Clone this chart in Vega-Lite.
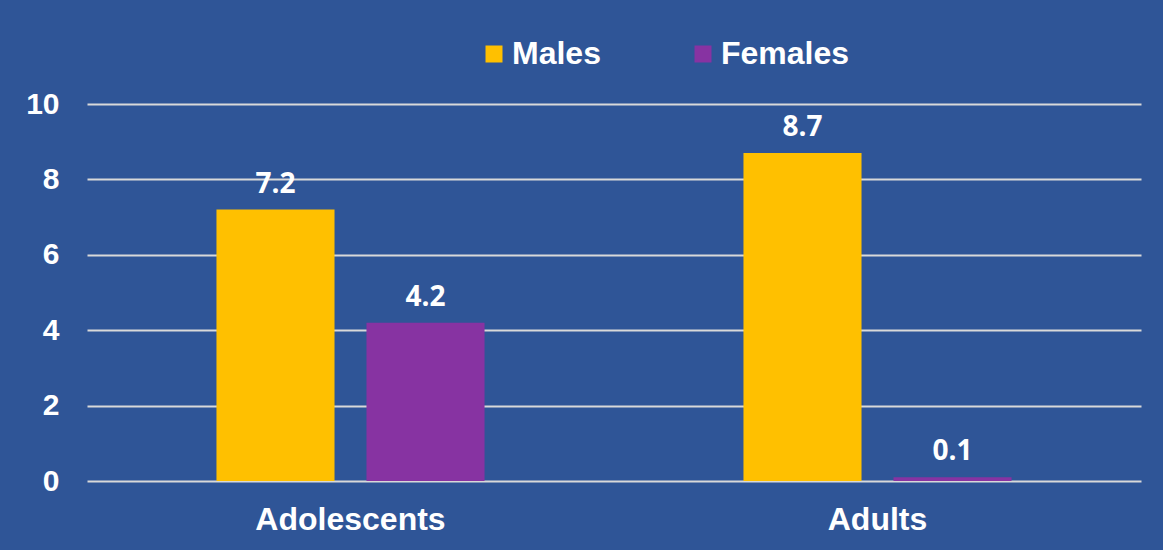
{
  "$schema": "https://vega.github.io/schema/vega-lite/v6.json",
  "width": 1054,
  "height": 377,
  "autosize": {"type": "none"},
  "padding": {"left": 87, "top": 104, "right": 22, "bottom": 69},
  "background": "#2F5597",
  "config": {
    "view": {"stroke": null},
    "axis": {"labelFont": "Liberation Sans", "labelFontWeight": "bold", "labelColor": "#FFFFFF", "labelLimit": 500}
  },
  "data": {
    "values": [
      {"group": "Adolescents", "sex": "Males", "value": 7.2},
      {"group": "Adolescents", "sex": "Females", "value": 4.2},
      {"group": "Adults", "sex": "Males", "value": 8.7},
      {"group": "Adults", "sex": "Females", "value": 0.1}
    ]
  },
  "encoding": {
    "x": {
      "field": "group", "type": "nominal", "sort": ["Adolescents", "Adults"],
      "scale": {"paddingInner": 0, "paddingOuter": 0},
      "axis": {"title": null, "labelAngle": 0, "labelFontSize": 32, "labelPadding": 23, "labelLimit": 500, "ticks": false, "domain": false, "grid": false}
    },
    "xOffset": {
      "field": "sex", "type": "nominal", "sort": ["Males", "Females"],
      "scale": {"paddingInner": 0.213, "paddingOuter": 0.863}
    },
    "y": {
      "field": "value", "type": "quantitative",
      "scale": {"domain": [0, 10]},
      "axis": {"title": null, "values": [0, 2, 4, 6, 8, 10], "labelFontSize": 30, "labelPadding": 28, "ticks": false, "domain": false, "grid": true, "gridColor": "#D9D9D9", "gridWidth": 2, "gridOpacity": 1}
    }
  },
  "layer": [
    {
      "mark": {"type": "bar"},
      "encoding": {
        "color": {
          "field": "sex", "type": "nominal", "sort": ["Males", "Females"],
          "scale": {"domain": ["Males", "Females"], "range": ["#FFC000", "#8733A2"]},
          "legend": {
            "title": null, "orient": "none", "direction": "horizontal",
            "legendX": 391, "legendY": -66,
            "symbolType": "square", "symbolSize": 289, "symbolStrokeWidth": 0,
            "labelFont": "Liberation Sans", "labelFontWeight": "bold", "labelFontSize": 32, "labelColor": "#FFFFFF",
            "labelOffset": 2, "columnPadding": 86, "labelLimit": 300
          }
        }
      }
    },
    {
      "mark": {"type": "text", "baseline": "alphabetic", "dy": -17, "font": "Open Sans", "fontWeight": "bold", "fontSize": 28, "color": "#FFFFFF"},
      "encoding": {"text": {"field": "value", "type": "quantitative", "format": ".1f"}}
    }
  ]
}
